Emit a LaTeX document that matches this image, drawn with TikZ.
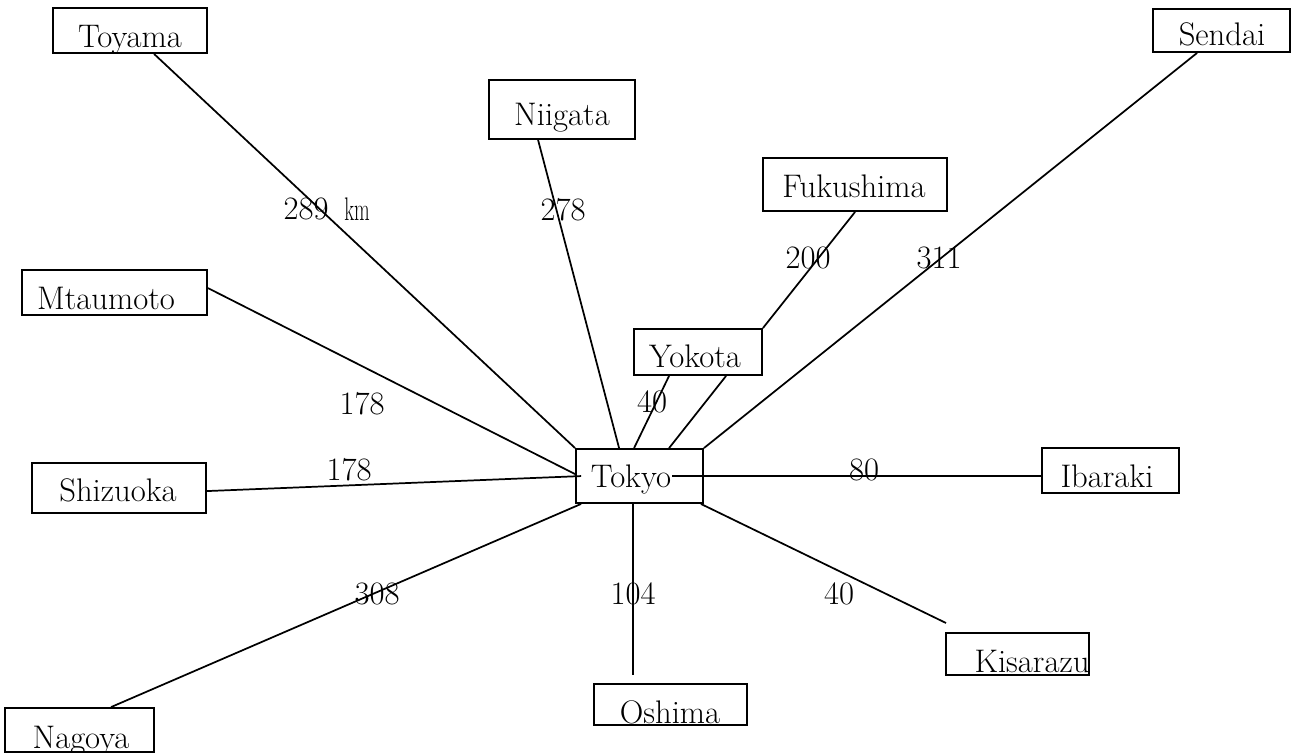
\documentclass[tikz,border=0pt]{standalone}
\usetikzlibrary{calc}
\begin{document}
\begin{tikzpicture}[x=0.75pt,y=-0.75pt,
  city/.style={draw,line width=1.4pt,rectangle,inner sep=0pt},
  cname/.style={anchor=base,inner sep=0pt,font=\fontsize{24.5}{28}\selectfont},
  dist/.style={inner sep=0pt,font=\fontsize{24.5}{28}\selectfont},
  link/.style={line width=1.3pt}]
\useasboundingbox (0,0) rectangle (1292,753);
% boxes
\node[city,minimum width=154*0.75pt,minimum height=45*0.75pt] (toyama) at (130,30.5) {};
\node[cname] (toyamaT) at (130,47) {Toyama};
\node[city,minimum width=146*0.75pt,minimum height=59*0.75pt] (niigata) at (562,109.5) {};
\node[cname] (niigataT) at (562,125) {Niigata};
\node[city,minimum width=184*0.75pt,minimum height=53*0.75pt] (fukushima) at (855,184.5) {};
\node[cname] (fukushimaT) at (854,197) {Fukushima};
\node[city,minimum width=137*0.75pt,minimum height=43*0.75pt] (sendai) at (1221.5,30.5) {};
\node[cname] (sendaiT) at (1222,45) {Sendai};
\node[city,minimum width=185*0.75pt,minimum height=45*0.75pt] (mtaumoto) at (114.5,292.5) {};
\node[cname] (mtaumotoT) at (106,309) {Mtaumoto};
\node[city,minimum width=128*0.75pt,minimum height=46*0.75pt] (yokota) at (698,352) {};
\node[cname] (yokotaT) at (695,367) {Yokota};
\node[city,minimum width=127*0.75pt,minimum height=54*0.75pt] (tokyo) at (639.5,476) {};
\node[cname] (tokyoT) at (631,487) {Tokyo};
\node[city,minimum width=174*0.75pt,minimum height=50*0.75pt] (shizuoka) at (119,488) {};
\node[cname] (shizuokaT) at (118,501) {Shizuoka};
\node[city,minimum width=137*0.75pt,minimum height=45*0.75pt] (ibaraki) at (1110.5,470.5) {};
\node[cname] (ibarakiT) at (1107,487) {Ibaraki};
\node[city,minimum width=143*0.75pt,minimum height=42*0.75pt] (kisarazu) at (1017.5,654) {};
\node[cname] (kisarazuT) at (1032,672) {Kisarazu};
\node[city,minimum width=153*0.75pt,minimum height=41*0.75pt] (oshima) at (670.5,704.5) {};
\node[cname] (oshimaT) at (670,723) {Oshima};
\node[city,minimum width=149*0.75pt,minimum height=44*0.75pt] (nagoya) at (79.5,730) {};
\node[cname] (nagoyaT) at (81,748) {Nagoya};
% free ends
\coordinate (kisEnd) at (946,623);
\coordinate (oshEnd) at ($(tokyo.south west)+(58,171)$);
% connectors
\draw[link] ($(toyama.south west)+(102,0)$) -- (tokyo.north west);
\draw[link] ($(niigata.south west)+(50,0)$) -- ($(tokyo.north west)+(44,0)$);
\draw[link] ($(fukushima.south west)+(93,0)$) -- (yokota.north east);
\draw[link] ($(yokota.south west)+(36,0)$) -- ($(tokyo.north west)+(59,0)$);
\draw[link] ($(yokota.south west)+(93,0)$) -- ($(tokyo.north west)+(94,0)$);
\draw[link] ($(sendai.south west)+(45,0)$) -- (tokyo.north east);
\draw[link] ($(mtaumoto.north east)+(0,19)$) -- ($(tokyo.north west)+(0,26)$);
\draw[link] ($(shizuoka.north east)+(0,29)$) -- ($(tokyo.north west)+(6,28)$);
\draw[link] ($(ibaraki.north west)+(0,29)$) -- ($(tokyo.north west)+(97,28)$);
\draw[link] (kisEnd) -- ($(tokyo.south east)+(-3,0)$);
\draw[link] (oshEnd) -- ($(tokyo.south west)+(58,0)$);
\draw[link] ($(nagoya.north west)+(107,0)$) -- ($(tokyo.south west)+(6,0)$);
% distances
\node[dist] (d1) at (306,209) {289};
\node[dist] (d1u) at (357,209) {\scalebox{0.62}[1]{km}};
\node[dist] (d2) at (563,210) {278};
\node[dist] (d3) at (808,258) {200};
\node[dist] (d4) at (939,258) {311};
\node[dist] (d5) at (362,404) {178};
\node[dist] (d6) at (652,402) {40};
\node[dist] (d7) at (349,470) {178};
\node[dist] (d8) at (864,470) {80};
\node[dist] (d9) at (377,594) {308};
\node[dist] (d10) at (633,594) {104};
\node[dist] (d11) at (839,594) {40};
\end{tikzpicture}
\end{document}
